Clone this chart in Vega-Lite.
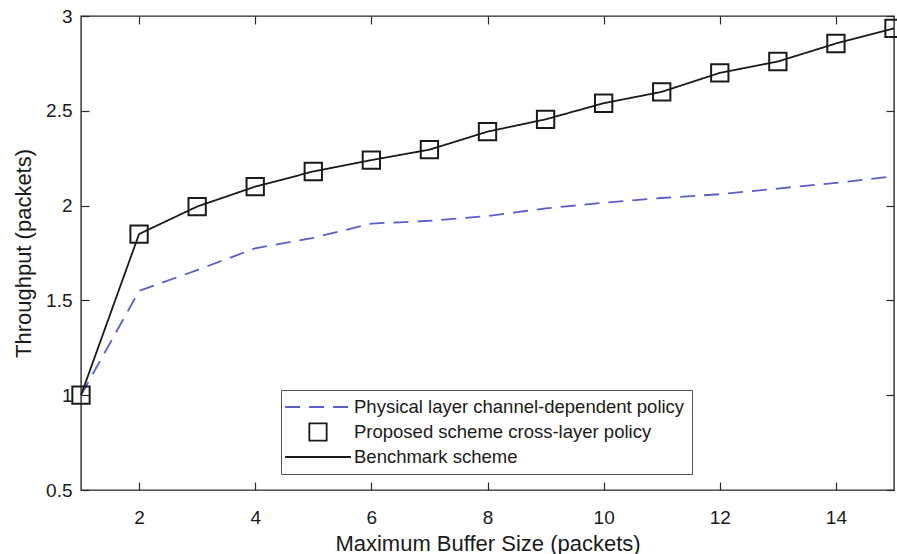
{
  "$schema": "https://vega.github.io/schema/vega-lite/v6.json",
  "autosize": "none",
  "padding": {"left": 81, "top": 16, "right": 3, "bottom": 64},
  "width": 813,
  "height": 474,
  "background": "white",
  "config": {
    "font": "Liberation Sans",
    "view": {"stroke": "#2a2a2a", "strokeWidth": 1.4},
    "axis": {
      "domain": false,
      "grid": false,
      "tickSize": -8,
      "tickColor": "#2a2a2a",
      "tickWidth": 1.2,
      "labelFont": "Liberation Sans",
      "labelFontSize": 19,
      "labelColor": "#1a1a1a",
      "titleFont": "Liberation Sans",
      "titleFontSize": 22,
      "titleFontWeight": "normal",
      "titleColor": "#1a1a1a"
    }
  },
  "data": {
    "values": [
      {"buffer": 1, "throughput": 1.0, "series": "Physical layer channel-dependent policy"},
      {"buffer": 2, "throughput": 1.55, "series": "Physical layer channel-dependent policy"},
      {"buffer": 3, "throughput": 1.66, "series": "Physical layer channel-dependent policy"},
      {"buffer": 4, "throughput": 1.775, "series": "Physical layer channel-dependent policy"},
      {"buffer": 5, "throughput": 1.83, "series": "Physical layer channel-dependent policy"},
      {"buffer": 6, "throughput": 1.905, "series": "Physical layer channel-dependent policy"},
      {"buffer": 7, "throughput": 1.92, "series": "Physical layer channel-dependent policy"},
      {"buffer": 8, "throughput": 1.945, "series": "Physical layer channel-dependent policy"},
      {"buffer": 9, "throughput": 1.985, "series": "Physical layer channel-dependent policy"},
      {"buffer": 10, "throughput": 2.015, "series": "Physical layer channel-dependent policy"},
      {"buffer": 11, "throughput": 2.04, "series": "Physical layer channel-dependent policy"},
      {"buffer": 12, "throughput": 2.06, "series": "Physical layer channel-dependent policy"},
      {"buffer": 13, "throughput": 2.09, "series": "Physical layer channel-dependent policy"},
      {"buffer": 14, "throughput": 2.12, "series": "Physical layer channel-dependent policy"},
      {"buffer": 15, "throughput": 2.155, "series": "Physical layer channel-dependent policy"},
      {"buffer": 1, "throughput": 1.0, "series": "Proposed scheme cross-layer policy"},
      {"buffer": 2, "throughput": 1.85, "series": "Proposed scheme cross-layer policy"},
      {"buffer": 3, "throughput": 1.995, "series": "Proposed scheme cross-layer policy"},
      {"buffer": 4, "throughput": 2.1, "series": "Proposed scheme cross-layer policy"},
      {"buffer": 5, "throughput": 2.18, "series": "Proposed scheme cross-layer policy"},
      {"buffer": 6, "throughput": 2.24, "series": "Proposed scheme cross-layer policy"},
      {"buffer": 7, "throughput": 2.295, "series": "Proposed scheme cross-layer policy"},
      {"buffer": 8, "throughput": 2.39, "series": "Proposed scheme cross-layer policy"},
      {"buffer": 9, "throughput": 2.455, "series": "Proposed scheme cross-layer policy"},
      {"buffer": 10, "throughput": 2.54, "series": "Proposed scheme cross-layer policy"},
      {"buffer": 11, "throughput": 2.6, "series": "Proposed scheme cross-layer policy"},
      {"buffer": 12, "throughput": 2.7, "series": "Proposed scheme cross-layer policy"},
      {"buffer": 13, "throughput": 2.76, "series": "Proposed scheme cross-layer policy"},
      {"buffer": 14, "throughput": 2.855, "series": "Proposed scheme cross-layer policy"},
      {"buffer": 15, "throughput": 2.935, "series": "Proposed scheme cross-layer policy"},
      {"buffer": 1, "throughput": 1.0, "series": "Benchmark scheme"},
      {"buffer": 2, "throughput": 1.85, "series": "Benchmark scheme"},
      {"buffer": 3, "throughput": 1.995, "series": "Benchmark scheme"},
      {"buffer": 4, "throughput": 2.1, "series": "Benchmark scheme"},
      {"buffer": 5, "throughput": 2.18, "series": "Benchmark scheme"},
      {"buffer": 6, "throughput": 2.24, "series": "Benchmark scheme"},
      {"buffer": 7, "throughput": 2.295, "series": "Benchmark scheme"},
      {"buffer": 8, "throughput": 2.39, "series": "Benchmark scheme"},
      {"buffer": 9, "throughput": 2.455, "series": "Benchmark scheme"},
      {"buffer": 10, "throughput": 2.54, "series": "Benchmark scheme"},
      {"buffer": 11, "throughput": 2.6, "series": "Benchmark scheme"},
      {"buffer": 12, "throughput": 2.7, "series": "Benchmark scheme"},
      {"buffer": 13, "throughput": 2.76, "series": "Benchmark scheme"},
      {"buffer": 14, "throughput": 2.855, "series": "Benchmark scheme"},
      {"buffer": 15, "throughput": 2.935, "series": "Benchmark scheme"}
    ]
  },
  "encoding": {
    "x": {
      "field": "buffer",
      "type": "quantitative",
      "scale": {"domain": [1, 15], "nice": false, "zero": false},
      "title": "Maximum Buffer Size (packets)"
    },
    "y": {
      "field": "throughput",
      "type": "quantitative",
      "scale": {"domain": [0.5, 3], "nice": false, "zero": false},
      "title": "Throughput (packets)"
    },
    "color": {
      "field": "series",
      "type": "nominal",
      "scale": {
        "domain": ["Physical layer channel-dependent policy", "Proposed scheme cross-layer policy", "Benchmark scheme"],
        "range": ["#5a5ecb", "#1a1a1a", "#1a1a1a"]
      },
      "legend": {
        "title": null,
        "orient": "none",
        "legendX": 200,
        "legendY": 374,
        "padding": 7,
        "strokeColor": "#555555",
        "fillColor": "white",
        "labelFont": "Liberation Sans",
        "labelFontSize": 18.5,
        "labelColor": "#1a1a1a",
        "labelLimit": 500,
        "symbolSize": 300,
        "symbolOffset": 20,
        "labelOffset": 26,
        "rowPadding": 2,
        "symbolStrokeWidth": 1.8,
        "symbolOpacity": 1,
        "symbolFillColor": "transparent",
        "encode": {
          "symbols": {"update": {"fill": {"value": "transparent"}, "opacity": {"value": 1}}}
        }
      }
    },
    "strokeDash": {
      "field": "series",
      "type": "nominal",
      "scale": {
        "domain": ["Physical layer channel-dependent policy", "Proposed scheme cross-layer policy", "Benchmark scheme"],
        "range": [[15, 9], [1, 0], [1, 0]]
      },
      "legend": {"title": null}
    }
  },
  "layer": [
    {
      "transform": [{"filter": "datum.series === 'Physical layer channel-dependent policy'"}],
      "mark": {"type": "line", "strokeWidth": 1.8},
      "encoding": {
        "x": {
          "field": "buffer",
          "type": "quantitative",
          "axis": {"values": [2, 4, 6, 8, 10, 12, 14], "labelPadding": 26, "titlePadding": 6}
        },
        "y": {
          "field": "throughput",
          "type": "quantitative",
          "axis": {"values": [0.5, 1, 1.5, 2, 2.5, 3], "format": "~g", "labelPadding": 17, "titlePadding": 10}
        }
      }
    },
    {
      "transform": [{"filter": "datum.series === 'Benchmark scheme'"}],
      "mark": {"type": "line", "strokeWidth": 1.8},
      "encoding": {
        "x": {
          "field": "buffer",
          "type": "quantitative",
          "axis": {"orient": "top", "values": [2, 4, 6, 8, 10, 12, 14], "labels": false, "title": null}
        },
        "y": {
          "field": "throughput",
          "type": "quantitative",
          "axis": {"orient": "right", "values": [0.5, 1, 1.5, 2, 2.5, 3], "labels": false, "title": null}
        }
      }
    },
    {
      "transform": [{"filter": "datum.series === 'Proposed scheme cross-layer policy'"}],
      "mark": {"type": "point", "filled": false, "size": 300, "strokeWidth": 2, "opacity": 1},
      "encoding": {
        "x": {"field": "buffer", "type": "quantitative", "axis": null},
        "y": {"field": "throughput", "type": "quantitative", "axis": null},
        "shape": {
          "field": "series",
          "type": "nominal",
          "scale": {
            "domain": ["Physical layer channel-dependent policy", "Proposed scheme cross-layer policy", "Benchmark scheme"],
            "range": ["M-3.8,0H3.8", "square", "M-3.8,0H3.8"]
          },
          "legend": {"title": null}
        }
      }
    }
  ],
  "resolve": {"axis": {"x": "independent", "y": "independent"}}
}
